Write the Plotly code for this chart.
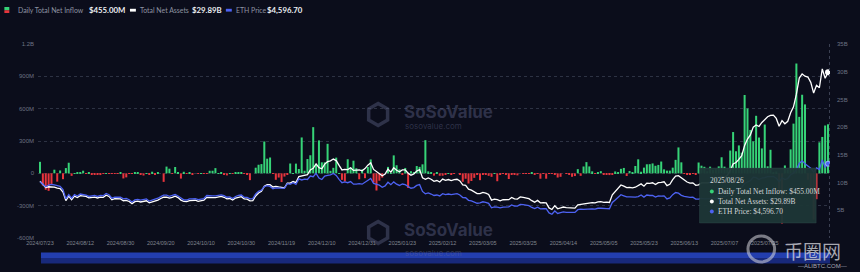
import plotly.graph_objects as go
import pandas as pd

# ---------------- data ----------------
holidays = ["2024-09-02", "2024-11-28", "2024-12-25", "2025-01-01", "2025-01-09", "2025-01-20",
            "2025-02-17", "2025-04-18", "2025-05-26", "2025-06-19", "2025-07-04"]
dates = [d.strftime("%Y/%m/%d") for d in pd.bdate_range("2024-07-23", "2025-08-26")
         if d.strftime("%Y-%m-%d") not in holidays]

tick_labels = ["2024/07/23", "2024/08/12", "2024/08/30", "2024/09/20", "2024/10/10", "2024/10/30",
               "2024/11/19", "2024/12/10", "2024/12/31", "2025/01/23", "2025/02/12", "2025/03/05",
               "2025/03/25", "2025/04/14", "2025/05/05", "2025/05/23", "2025/06/13", "2025/07/07",
               "2025/07/25"]

# Daily total net inflow, $M
inflow = [
    106.8, -113.3, -152.3, -162.7, -98.3, 33.7, -77.2, 26.7, -54.3, 48.8,
    98.4, -23.7, 2.7, 5.8, 4.9, 24.3, -0.5, 10.8, -15.7, -13.5,
    -6.5, -16.1, -0.9, 2.0, -3.5, -3.0, -5.9, -1.8, 5.2,
    -47.4, -37.5, -0.2, -5.2, 5.3, 11.4, -8.0, -20.1, 1.1, -9.8,
    15.1, -15.1, 5.2, 0.0, -79.3, 62.5, 43.2, -0.1, 58.7, 7.6,
    -48.6, 14.5, -3.2, 7.4, -7.4, 0.0, -2.0, 0.9, -0.1, -0.1, 23.7, 24.2,
    48.4, 2.4, 4.5, -10.9, -19.2, 2.3, -1.1, 7.3, 7.6, 4.4, -0.9,
    -10.9, -63.2, 0.0, 52.3, 79.7, 85.9, 295.5, 135.9, 146.9, -3.2,
    -59.8, -39.1, -81.2, -30.0, -6.6, 91.2, 2.8, 90.1, 40.0, 332.9,
    24.2, 132.6, 167.7, 428.5, 83.8, 305.7, 102.1, 102.5, 273.7, 23.4, 51.2,
    145.7, 2.5, -60.5, -75.1, 130.8, 53.6, 117.2, 47.2, -55.4, 35.9,
    -45.0, 58.9, 128.7, -86.8, -159.4, -68.5, -39.4, 0.0, 59.8, 1.2,
    166.6, 75.1, 37.0, -14.9, 50.0, -136.2, 20.0, 9.4, 67.8, 60.0,
    83.5, 307.8, 18.3, 10.7, -21.5, 12.6, -22.5, -22.1, -10.0, 1.6,
    -14.0, -3.0, 0.0, -8.9, -78.1, -50.1, -94.3, -71.3, -41.7,
    -12.1, -63.3, -14.6, -10.9, -23.1, -32.6, 1.1, -73.3, -10.3, -4.0, -7.3,
    -52.8, -11.8, -12.0, -18.6, 0.0, -3.3, -5.9, -4.2, 4.7, -6.4,
    -3.6, -50.0, -3.6, -49.8, -3.3, -3.3, -11.2, -38.8, -32.2, 0.0, -2.2,
    -12.0, -32.2, -25.4, 38.8, -23.2, 63.5, 104.1, 64.1, 18.4, -2.4,
    6.5, 20.1, -10.0, -6.4, -16.1, -8.0, 17.6, 6.8, 41.8, 50.0, -25.0,
    22.0, 6.0, 68.0, 130.0, 15.0, 53.0, 84.0, 84.9, 91.9, 70.2,
    78.2, 109.5, 37.0, 25.0, 25.1, 52.7, 125.0, 240.3, 102.0, -2.2,
    -10.0, -11.1, -2.0, -11.3, 100.5, 71.0, 60.8, 20.0, 62.0, 31.8,
    40.7, 64.6, 149.1, 62.1, 46.3, 211.3, 383.1, 204.9, 259.0, 192.3, 726.7,
    602.0, 402.5, 296.6, 533.9, 332.2, 231.2, 452.7, 65.1, 218.6, 5.8, 17.0,
    -152.3, -465.1, 73.2, 35.1, 222.3, 461.2, 1019.0, 523.9, 729.1, 639.6,
    -59.3, -196.6, -429.0, -240.1, 287.6, 337.7, 443.9, 455.0,
]

# Total net assets, $B
assets = [
    10.23, 9.72, 9.10, 9.24, 9.26, 9.18, 8.98, 8.93, 8.28, 6.75,
    7.56, 6.91, 7.56, 7.31, 7.64, 7.61, 7.50, 7.25, 7.33, 7.39,
    7.22, 7.36, 7.34, 7.73, 7.50, 6.89, 7.08, 7.08, 7.06,
    6.73, 6.80, 6.59, 6.20, 6.56, 6.65, 6.50, 6.56, 6.72, 6.34,
    6.50, 6.59, 6.84, 7.12, 7.35, 7.39, 7.21, 7.35, 7.55, 7.30,
    6.84, 6.59, 6.56, 6.76, 6.75, 6.81, 6.61, 6.67, 6.81, 7.34, 7.27, 7.30,
    7.29, 7.40, 7.49, 7.35, 7.06, 7.12, 6.84, 7.20, 7.40, 7.46, 7.06,
    7.00, 6.70, 6.76, 7.59, 8.12, 8.41, 9.32, 9.62, 9.63, 9.21,
    9.30, 9.21, 9.18, 9.06, 9.91, 9.89, 10.19, 9.99, 11.09, 11.20,
    11.39, 11.44, 12.29, 12.58, 13.36, 12.69, 12.49, 13.33, 13.77, 13.92, 14.24,
    13.97, 13.10, 12.28, 12.39, 12.35, 12.67, 12.19, 12.25, 12.30, 12.12,
    12.53, 13.14, 13.58, 12.37, 12.02, 11.74, 11.24, 11.53, 12.42, 11.88,
    12.67, 12.22, 11.96, 12.29, 12.28, 11.70, 11.33, 11.54, 12.09, 12.34,
    10.86, 10.59, 10.85, 10.61, 10.23, 10.37, 10.11, 10.63, 10.40, 10.55,
    10.37, 10.53, 10.60, 10.29, 9.60, 9.51, 8.81, 8.63, 8.32,
    8.00, 8.01, 8.24, 8.10, 7.85, 6.83, 7.01, 6.91, 6.71, 6.90, 6.97,
    6.91, 7.32, 7.07, 7.01, 7.40, 7.33, 7.16, 7.10, 6.73, 6.46,
    6.78, 6.35, 6.39, 6.34, 5.43, 5.15, 5.83, 5.27, 5.42, 5.59, 5.49,
    5.44, 5.40, 5.39, 6.00, 6.10, 6.11, 6.27, 6.37, 6.39, 6.35,
    6.53, 6.55, 6.43, 6.46, 6.41, 7.79, 8.34, 8.84, 9.57, 9.37, 9.09,
    9.12, 9.05, 9.16, 9.40, 9.76, 9.34, 9.90, 9.86, 9.97, 9.64,
    9.98, 10.05, 10.15, 9.44, 9.70, 10.53, 11.18, 11.25, 10.82, 10.40,
    10.10, 9.90, 9.95, 9.50, 9.60, 9.95, 9.90, 9.95, 10.05, 10.30,
    10.19, 10.92, 11.11, 10.95, 11.30, 12.19, 13.36, 13.62, 14.18, 14.84, 16.71,
    17.85, 18.60, 20.00, 20.40, 20.12, 20.85, 21.47, 21.89, 22.12, 22.17, 21.57,
    20.15, 21.17, 20.61, 21.05, 22.60, 23.66, 25.95, 28.86, 29.60, 29.20,
    29.04, 28.08, 26.15, 27.56, 27.11, 30.50, 28.82, 29.89,
]

# ETH price, $
eth_price = [
    3480, 3340, 3170, 3275, 3320, 3280, 3230, 3200, 2990, 2420,
    2680, 2460, 2690, 2600, 2720, 2700, 2660, 2570, 2600, 2630,
    2570, 2630, 2620, 2760, 2680, 2460, 2530, 2530, 2520,
    2420, 2450, 2370, 2230, 2360, 2390, 2340, 2360, 2420, 2280,
    2340, 2370, 2460, 2560, 2650, 2650, 2580, 2630, 2690, 2600,
    2450, 2360, 2350, 2420, 2420, 2440, 2370, 2390, 2440, 2630, 2600, 2610,
    2600, 2640, 2670, 2620, 2520, 2540, 2440, 2570, 2640, 2660, 2520,
    2510, 2420, 2440, 2720, 2890, 2960, 3180, 3240, 3190, 3050,
    3100, 3080, 3100, 3070, 3360, 3320, 3420, 3320, 3660, 3590,
    3640, 3620, 3830, 3790, 4000, 3710, 3620, 3830, 3880, 3910, 3990,
    3870, 3630, 3420, 3470, 3420, 3490, 3330, 3330, 3360, 3330,
    3450, 3600, 3690, 3380, 3330, 3270, 3140, 3220, 3450, 3300,
    3470, 3330, 3250, 3340, 3300, 3180, 3080, 3120, 3250, 3300,
    2880, 2730, 2790, 2720, 2630, 2660, 2600, 2740, 2680, 2720,
    2680, 2720, 2740, 2660, 2500, 2490, 2330, 2300, 2230,
    2150, 2170, 2240, 2200, 2140, 1870, 1920, 1910, 1860, 1910, 1930,
    1930, 2050, 1980, 1970, 2080, 2060, 2010, 2000, 1890, 1820,
    1910, 1800, 1810, 1810, 1550, 1470, 1670, 1520, 1570, 1620, 1590,
    1580, 1580, 1580, 1750, 1790, 1770, 1790, 1800, 1800, 1790,
    1840, 1840, 1810, 1820, 1810, 2200, 2350, 2490, 2680, 2610, 2540,
    2540, 2520, 2530, 2560, 2660, 2530, 2660, 2630, 2630, 2530,
    2600, 2590, 2610, 2420, 2480, 2680, 2810, 2770, 2640, 2580,
    2540, 2510, 2530, 2410, 2410, 2450, 2420, 2420, 2430, 2490,
    2410, 2570, 2590, 2540, 2610, 2770, 2950, 2960, 3030, 3130, 3370,
    3480, 3550, 3760, 3730, 3620, 3710, 3740, 3800, 3800, 3810, 3700,
    3480, 3720, 3610, 3680, 3910, 4010, 4220, 4610, 4770, 4590,
    4440, 4320, 4080, 4340, 4230, 4830, 4380, 4596.7,
]

left_ticks = [-600, -300, 0, 300, 600, 900, 1200]
left_labels = ["-600M", "-300M", "0", "300M", "600M", "900M", "1.2B"]
right_ticks = [5, 10, 15, 20, 25, 30, 35]
right_labels = ["5B", "10B", "15B", "20B", "25B", "30B", "35B"]

# ---------------- layout helpers ----------------
L, R, T, B = 38, 839, 44, 238
W, H = R - L, B - T


def px(x):
    return (x - L) / W


def py(y):
    return (B - y) / H


BG = "#0b0d1b"
GREEN = "#36d377"
RED = "#e8343c"
BLUE = "#4d62f2"

fig = go.Figure()
fig.add_trace(go.Bar(
    x=dates, y=inflow,
    marker=dict(color=[GREEN if v >= 0 else RED for v in inflow], line=dict(width=0)),
    hoverinfo="skip", yaxis="y",
))
fig.add_trace(go.Scatter(
    x=dates, y=eth_price, mode="lines", line=dict(color=BLUE, width=1.3),
    hoverinfo="skip", yaxis="y3",
))
fig.add_trace(go.Scatter(
    x=dates, y=assets, mode="lines", line=dict(color="#ffffff", width=1.3),
    hoverinfo="skip", yaxis="y2",
))
fig.add_trace(go.Scatter(
    x=[dates[-1]], y=[eth_price[-1]], mode="markers",
    marker=dict(color=BLUE, size=5, line=dict(color="#9fb0ff", width=1)),
    hoverinfo="skip", yaxis="y3",
))
fig.add_trace(go.Scatter(
    x=[dates[-1]], y=[assets[-1]], mode="markers",
    marker=dict(color="#ffffff", size=6, line=dict(color="#ffffff", width=0)),
    hoverinfo="skip", yaxis="y2",
))

n = len(dates)
x0 = -2 / (797 / (n - 1))
x1 = (n - 1) + 2 / (797 / (n - 1))

axis_font = dict(family="Liberation Sans, Arial, sans-serif", size=6, color="#6c7283")

fig.update_layout(
    width=860, height=272, autosize=False,
    margin=dict(l=L, r=860 - R, t=T, b=272 - B, pad=0),
    paper_bgcolor=BG, plot_bgcolor=BG,
    showlegend=False, bargap=0.3,
    xaxis=dict(type="category", range=[x0, x1], tickvals=tick_labels, ticktext=tick_labels,
               tickfont=dict(family="Liberation Sans, Arial, sans-serif", size=5.5, color="#80868f"),
               showgrid=False, zeroline=False, showline=False, ticks=""),
    yaxis=dict(range=[-600, 1200], tickvals=left_ticks, ticktext=left_labels, tickfont=axis_font,
               showgrid=True, gridcolor="#2d3243", griddash="dot", gridwidth=1,
               zeroline=False, showline=False, ticks="", ticklabelstandoff=3),
    yaxis2=dict(range=[0, 35], overlaying="y", side="right", tickvals=right_ticks,
                ticktext=right_labels, tickfont=axis_font, showgrid=False, zeroline=False,
                showline=False, ticks="", ticklabelstandoff=6),
    yaxis3=dict(range=[0, 12000], overlaying="y", visible=False),
)

shapes = []
ann = []

# right axis dotted line
shapes.append(dict(type="line", xref="paper", yref="paper", x0=px(838.5), x1=px(838.5),
                   y0=py(T), y1=py(B), line=dict(color="#3b4052", width=1, dash="dot")))

# legend
lg_font = dict(family="Lato, sans-serif", size=6.9, color="#8d93a1")
val_font = dict(family="Lato, sans-serif", size=7.8, color="#eceef2")
shapes.append(dict(type="rect", xref="paper", yref="paper", x0=px(4), x1=px(9), y0=py(7), y1=py(10.3),
                   fillcolor=GREEN, line=dict(width=0)))
shapes.append(dict(type="rect", xref="paper", yref="paper", x0=px(4), x1=px(9), y0=py(10.3), y1=py(13),
                   fillcolor=RED, line=dict(width=0)))
shapes.append(dict(type="rect", xref="paper", yref="paper", x0=px(131), x1=px(137), y0=py(8.8), y1=py(11.6),
                   fillcolor="#ffffff", line=dict(width=0)))
shapes.append(dict(type="rect", xref="paper", yref="paper", x0=px(228), x1=px(234), y0=py(8.8), y1=py(11.6),
                   fillcolor=BLUE, line=dict(width=0)))
for xpos, txt, f in [(16, "Daily Total Net Inflow", lg_font), (88, "<b>$455.00M</b>", val_font),
                     (139, "Total Net Assets", lg_font), (192, "<b>$29.89B</b>", val_font),
                     (236, "ETH Price", lg_font), (268, "<b>$4,596.70</b>", val_font)]:
    ann.append(dict(xref="paper", yref="paper", x=px(xpos), y=py(10.5), text=txt, showarrow=False,
                    xanchor="left", yanchor="middle", font=f))

# SoSoValue watermarks
wm = "rgba(105,110,150,0.38)"
for cy, cy2 in ((111.5, 126.0), (229.5, 252.5)):
    hx, hy, r = 382, cy + 3, 11
    path = (f"M {px(hx)} {py(hy - r)} L {px(hx + r * 0.87)} {py(hy - r / 2)} "
            f"L {px(hx + r * 0.87)} {py(hy + r / 2)} L {px(hx)} {py(hy + r)} "
            f"L {px(hx - r * 0.87)} {py(hy + r / 2)} L {px(hx - r * 0.87)} {py(hy - r / 2)} Z")
    shapes.append(dict(type="path", xref="paper", yref="paper", path=path,
                       line=dict(color=wm, width=3.5), fillcolor="rgba(0,0,0,0)"))
    ann.append(dict(xref="paper", yref="paper", x=px(406), y=py(cy), text="<b>SoSoValue</b>",
                    showarrow=False, xanchor="left", yanchor="middle",
                    font=dict(family="Inter, sans-serif", size=17, color=wm)))
    ann.append(dict(xref="paper", yref="paper", x=px(407), y=py(cy2), text="sosovalue.com",
                    showarrow=False, xanchor="left", yanchor="middle",
                    font=dict(family="Inter, sans-serif", size=8, color=wm)))

# bottom data-zoom strip
shapes.append(dict(type="rect", xref="paper", yref="paper", x0=px(41), x1=px(839), y0=py(252.5), y1=py(258),
                   fillcolor="#2848c8", line=dict(width=0), opacity=0.85))
shapes.append(dict(type="rect", xref="paper", yref="paper", x0=px(41), x1=px(839), y0=py(258), y1=py(263.5),
                   fillcolor="#1b2f8c", line=dict(width=0), opacity=0.85))

# tooltip
shapes.append(dict(type="rect", xref="paper", yref="paper", x0=px(707), x1=px(825), y0=py(168), y1=py(223),
                   fillcolor="rgba(29,54,54,0.96)", line=dict(color="rgba(60,90,90,0.6)", width=0.5),
                   layer="above"))
tip_font = dict(family="Liberation Serif, serif", size=7.4, color="#d3d7d9")
ann.append(dict(xref="paper", yref="paper", x=px(716), y=py(180), text="2025/08/26", showarrow=False,
                xanchor="left", yanchor="middle", font=tip_font))
for yy, col, txt in [(191.5, GREEN, "Daily Total Net Inflow: $455.00M"),
                     (201.5, "#ffffff", "Total Net Assets: $29.89B"),
                     (211.5, BLUE, "ETH Price: $4,596.70")]:
    shapes.append(dict(type="circle", xref="paper", yref="paper", x0=px(717.5), x1=px(721.5),
                       y0=py(yy - 2), y1=py(yy + 2), fillcolor=col, line=dict(width=0), layer="above"))
    ann.append(dict(xref="paper", yref="paper", x=px(723.5), y=py(yy), text=txt, showarrow=False,
                    xanchor="left", yanchor="middle", font=tip_font))

# 币圈网 watermark
shapes.append(dict(type="circle", xref="paper", yref="paper", x0=px(756), x1=px(783), y0=py(236), y1=py(262),
                   line=dict(color="rgba(215,215,220,0.55)", width=3), fillcolor="rgba(0,0,0,0)"))
ann.append(dict(xref="paper", yref="paper", x=px(790), y=py(250), text="币圈网", showarrow=False,
                xanchor="left", yanchor="middle",
                font=dict(family="Noto Sans CJK SC, sans-serif", size=19, color="rgba(220,220,225,0.75)")))
ann.append(dict(xref="paper", yref="paper", x=px(805), y=py(266), text="—ALIBTC.COM—", showarrow=False,
                xanchor="left", yanchor="middle",
                font=dict(family="Liberation Sans, sans-serif", size=6, color="rgba(220,220,225,0.75)")))

fig.update_layout(shapes=shapes, annotations=ann)
fig.write_html("out.html")
